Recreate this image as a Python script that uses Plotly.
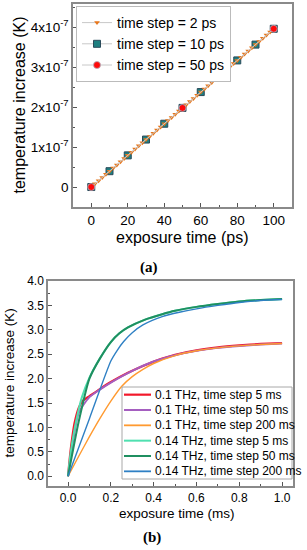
import plotly.graph_objects as go

# ---------------- (a) data ----------------
t_2ps = list(range(0, 101, 2))
T_2ps = [0, 0.079, 0.158, 0.238, 0.317, 0.396, 0.475, 0.554, 0.634, 0.713, 0.792,
         0.871, 0.950, 1.030, 1.109, 1.188, 1.267, 1.346, 1.426, 1.505, 1.584,
         1.663, 1.742, 1.822, 1.901, 1.980, 2.059, 2.138, 2.218, 2.297, 2.376,
         2.455, 2.534, 2.614, 2.693, 2.772, 2.851, 2.930, 3.010, 3.089, 3.168,
         3.247, 3.326, 3.406, 3.485, 3.564, 3.643, 3.722, 3.802, 3.881, 3.960]
t_10ps = [0, 10, 20, 30, 40, 50, 60, 70, 80, 90, 100]
T_10ps = [0, 0.396, 0.792, 1.188, 1.584, 1.980, 2.376, 2.772, 3.168, 3.564, 3.960]
t_50ps = [0, 50, 100]
T_50ps = [0, 1.980, 3.960]
SCALE_A = 1e-7  # values above are in units of 1e-7 K

ytick_vals_a = [0, 1e-7, 2e-7, 3e-7, 4e-7]
ytick_text_a = ["0", "1x10<sup>-7</sup>", "2x10<sup>-7</sup>", "3x10<sup>-7</sup>", "4x10<sup>-7</sup>"]

# ---------------- (b) data ----------------
names_b = ["0.1 THz, time step 5 ms", "0.1 THz, time step 50 ms", "0.1 THz, time step 200 ms",
           "0.14 THz, time step 5 ms", "0.14 THz, time step 50 ms", "0.14 THz, time step 200 ms"]

t_r = [0, 0.01, 0.02, 0.03, 0.05, 0.07, 0.1, 0.14, 0.2, 0.28, 0.35, 0.44, 0.5, 0.6, 0.7, 0.8, 0.9, 1.0]
T_r = [0, 0.45, 0.80, 1.08, 1.40, 1.55, 1.64, 1.76, 1.93, 2.12, 2.26, 2.41, 2.49, 2.58, 2.64, 2.68, 2.71, 2.73]

t_p = [0, 0.05, 0.1, 0.15, 0.2, 0.3, 0.4, 0.5, 0.6, 0.7, 0.8, 0.9, 1.0]
T_p = [0, 1.30, 1.62, 1.78, 1.92, 2.16, 2.35, 2.48, 2.57, 2.63, 2.67, 2.70, 2.72]

t_o = [0, 0.05, 0.1, 0.15, 0.2, 0.25, 0.3, 0.35, 0.4, 0.5, 0.6, 0.7, 0.8, 0.9, 1.0]
T_o = [0, 0.41, 0.81, 1.19, 1.54, 1.84, 2.04, 2.19, 2.31, 2.47, 2.57, 2.63, 2.67, 2.70, 2.72]

t_lg = [0, 0.01, 0.02, 0.04, 0.065, 0.1, 0.14, 0.2, 0.24, 0.28, 0.36, 0.44, 0.5, 0.6, 0.7, 0.8, 0.9, 1.0]
T_lg = [0, 0.40, 0.70, 1.17, 1.62, 2.02, 2.35, 2.75, 2.93, 3.05, 3.21, 3.32, 3.39, 3.47, 3.53, 3.58, 3.61, 3.63]

t_dg = [0, 0.05, 0.1, 0.15, 0.2, 0.24, 0.28, 0.36, 0.44, 0.5, 0.6, 0.7, 0.8, 0.9, 1.0]
T_dg = [0, 1.12, 2.00, 2.42, 2.75, 2.93, 3.05, 3.21, 3.32, 3.39, 3.47, 3.53, 3.58, 3.61, 3.63]

t_b = [0, 0.1, 0.2, 0.23, 0.26, 0.3, 0.35, 0.44, 0.52, 0.6, 0.7, 0.8, 0.9, 1.0]
T_b = [0, 1.18, 2.36, 2.58, 2.76, 2.94, 3.10, 3.27, 3.36, 3.43, 3.50, 3.56, 3.60, 3.62]

colors_b = ["#F2182A", "#A55EC0", "#FF9A30", "#4FE0B0", "#1F8F60", "#2F80C4"]
widths_b = [2.2, 2.0, 1.4, 2.0, 2.0, 1.4]
series_b = [(t_r, T_r), (t_p, T_p), (t_o, T_o), (t_lg, T_lg), (t_dg, T_dg), (t_b, T_b)]

W, H = 307, 550
FONT = "Arial, Liberation Sans, sans-serif"
FRAME = "#8a8a8a"


def px(x):
    return x / W


def py(y):
    return 1 - y / H


fig = go.Figure()

# ---- (a) traces (drawn: 10 ps, 2 ps, 50 ps; legend: 2, 10, 50)
fig.add_trace(go.Scatter(x=t_10ps, y=[v * SCALE_A for v in T_10ps], name="time step = 10 ps",
                         mode="lines+markers", legendrank=2,
                         line=dict(color="#c8c8c8", width=1),
                         marker=dict(symbol="square", size=7, color="#1E7F80",
                                     line=dict(color="#2a4a5a", width=1)),
                         xaxis="x", yaxis="y"))
fig.add_trace(go.Scatter(x=t_2ps, y=[v * SCALE_A for v in T_2ps], name="time step = 2 ps",
                         mode="lines+markers", legendrank=1,
                         line=dict(color="#c8c8c8", width=1),
                         marker=dict(symbol="triangle-down", size=5, color="#E8761A",
                                     line=dict(width=0)),
                         xaxis="x", yaxis="y"))
fig.add_trace(go.Scatter(x=t_50ps, y=[v * SCALE_A for v in T_50ps], name="time step = 50 ps",
                         mode="lines+markers", legendrank=3,
                         line=dict(color="#c8c8c8", width=1),
                         marker=dict(symbol="circle", size=7, color="#FF0A0A",
                                     line=dict(color="#b0b0c0", width=0.8)),
                         xaxis="x", yaxis="y"))

# ---- (b) traces
for name, (tt, TT), c, w in zip(names_b, series_b, colors_b, widths_b):
    fig.add_trace(go.Scatter(x=tt, y=TT, name=name, mode="lines", showlegend=False,
                             line=dict(color=c, width=w, shape="spline", smoothing=0.6),
                             xaxis="x2", yaxis="y2"))

axis_common = dict(showline=True, linecolor=FRAME, linewidth=1.5, mirror=True,
                   showgrid=False, zeroline=False, ticks="inside", tickcolor="#555555",
                   ticklen=4, tickwidth=1, color="black", automargin=False)

fig.update_layout(
    width=W, height=H,
    margin=dict(l=0, r=0, t=0, b=0, autoexpand=False),
    paper_bgcolor="white", plot_bgcolor="white",
    font=dict(family=FONT, color="black"),
    xaxis=dict(domain=[px(73), px(292)], range=[-10, 110], anchor="y",
               tickvals=[0, 20, 40, 60, 80, 100], tickfont=dict(size=13.5),
               minor=dict(ticks="inside", ticklen=2.5, dtick=10, tick0=0, tickcolor="#555555"),
               **axis_common),
    yaxis=dict(domain=[py(207), py(4)], range=[-0.5e-7, 4.58e-7], anchor="x",
               tickvals=ytick_vals_a, ticktext=ytick_text_a, tickfont=dict(size=13.5),
               minor=dict(ticks="inside", ticklen=2.5, dtick=0.5e-7, tick0=0, tickcolor="#555555"),
               **axis_common),
    xaxis2=dict(domain=[px(48), px(293)], range=[-0.0935, 1.051], anchor="y2",
                tickvals=[0, 0.2, 0.4, 0.6, 0.8, 1.0], tickformat=".1f", tickfont=dict(size=12),
                minor=dict(ticks="inside", ticklen=2.5, dtick=0.1, tick0=0, tickcolor="#555555"),
                **axis_common),
    yaxis2=dict(domain=[py(486), py(281)], range=[-0.2, 4.0], anchor="x2",
                tickvals=[0, 0.5, 1.0, 1.5, 2.0, 2.5, 3.0, 3.5, 4.0], tickformat=".1f",
                tickfont=dict(size=12),
                minor=dict(ticks="inside", ticklen=2.5, dtick=0.25, tick0=0, tickcolor="#555555"),
                **axis_common),
    legend=dict(x=px(76), y=py(6), xanchor="left", yanchor="top",
                bordercolor="#bbbbbb", borderwidth=1, bgcolor="white",
                font=dict(size=14, family=FONT), itemwidth=30, tracegroupgap=0),
    showlegend=True,
)

annots = [
    dict(text="temperature increase (K)", x=px(19), y=py(105.5), textangle=-90,
         font=dict(size=16)),
    dict(text="exposure time (ps)", x=px(182), y=py(237), font=dict(size=16)),
    dict(text="<b>(a)</b>", x=px(149), y=py(267),
         font=dict(size=15, family="Liberation Serif, DejaVu Serif, serif")),
    dict(text="temperature increase (K)", x=px(9), y=py(383.5), textangle=-90,
         font=dict(size=13.5)),
    dict(text="exposure time (ms)", x=px(176.5), y=py(513), font=dict(size=13.5)),
    dict(text="<b>(b)</b>", x=px(152), y=py(537),
         font=dict(size=15, family="Liberation Serif, DejaVu Serif, serif")),
]
for a in annots:
    fig.add_annotation(xref="paper", yref="paper", showarrow=False,
                       xanchor="center", yanchor="middle", **a)

# ---- compact legend for (b): box, sample lines and real text labels
LEG_TOP, LEG_BOT, LEG_L, LEG_R = 387, 479, 122, 292
fig.add_shape(type="rect", xref="paper", yref="paper", layer="above",
              x0=px(LEG_L), x1=px(LEG_R), y0=py(LEG_BOT), y1=py(LEG_TOP),
              fillcolor="white", line=dict(color="#a8a8a8", width=1))
row_gap = (LEG_BOT - LEG_TOP) / len(names_b)
for i, (name, c, w) in enumerate(zip(names_b, colors_b, widths_b)):
    yy = LEG_TOP + row_gap * (i + 0.5)
    fig.add_shape(type="line", xref="paper", yref="paper", layer="above",
                  x0=px(LEG_L + 2), x1=px(LEG_L + 29), y0=py(yy), y1=py(yy),
                  line=dict(color=c, width=max(w, 1.8)))
    fig.add_annotation(xref="paper", yref="paper", showarrow=False, text=name,
                       x=px(LEG_L + 31), y=py(yy), xanchor="left", yanchor="middle",
                       font=dict(size=12, family=FONT))

fig.write_html("out.html", config={"displayModeBar": False},
               post_script="document.body.style.margin='0';document.body.style.overflow='hidden';")
